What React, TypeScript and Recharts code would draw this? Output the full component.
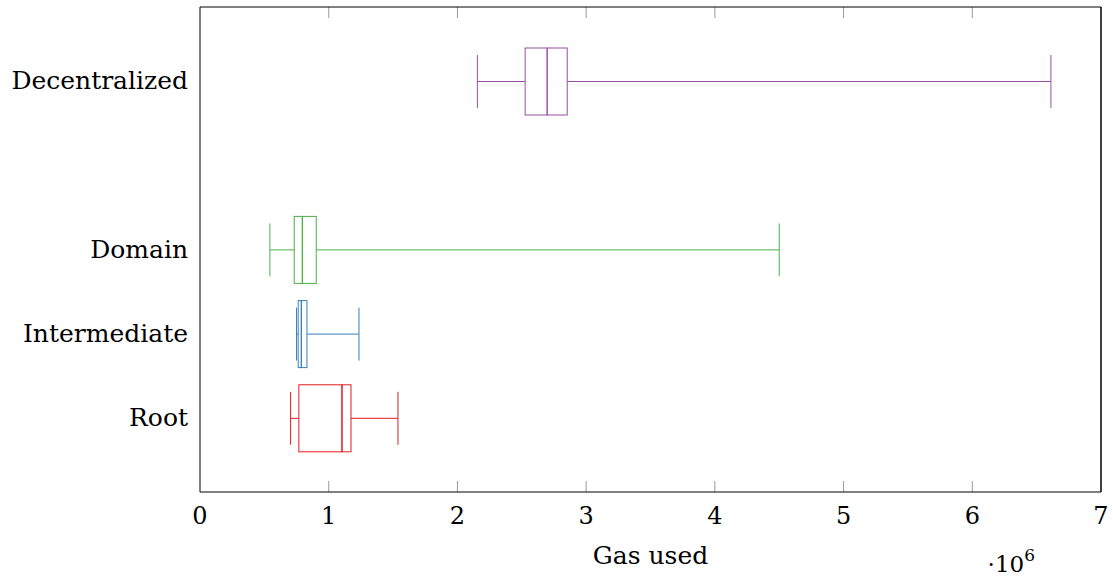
import React from 'react';
import { ComposedChart, Bar, XAxis, YAxis, ReferenceLine } from 'recharts';

// box plot rows, top to bottom ('' = empty slot between Domain and Decentralized)
const categories = ['Decentralized', '', 'Domain', 'Intermediate', 'Root'];
const colors = ['#984ea3', '', '#4daf4a', '#377eb8', '#e41a1c'];
// gas used, in units of 10^6
const lowerWhisker = [2.155, 0, 0.543, 0.75, 0.704];
const lowerQuartile = [2.526, 0, 0.732, 0.763, 0.768];
const median = [2.697, 0, 0.795, 0.787, 1.103];
const upperQuartile = [2.853, 0, 0.903, 0.831, 1.173];
const upperWhisker = [6.611, 0, 4.5, 1.235, 1.538];
const xTicks = [0, 1, 2, 3, 4, 5, 6, 7];

const FONT = '"DejaVu Serif", serif';

// stacked segments: invisible base, low whisker, lower box half, upper box half, high whisker
const data = categories.map((name, i) => ({
  name: name || ' ',
  color: colors[i],
  base: lowerWhisker[i],
  w1: lowerQuartile[i] - lowerWhisker[i],
  b1: median[i] - lowerQuartile[i],
  b2: upperQuartile[i] - median[i],
  w2: upperWhisker[i] - upperQuartile[i],
}));

const Nothing = () => null;

const WhiskerLow = (props: any) => {
  const { x, y, width, height, payload } = props;
  if (!payload || !payload.color) return null;
  const cy = y + height / 2;
  const cap = (height * 0.79) / 2;
  return (
    <g stroke={payload.color} strokeWidth={1} fill="none">
      <line x1={x} x2={x + width} y1={cy} y2={cy} />
      <line x1={x} x2={x} y1={cy - cap} y2={cy + cap} />
    </g>
  );
};

const WhiskerHigh = (props: any) => {
  const { x, y, width, height, payload } = props;
  if (!payload || !payload.color) return null;
  const cy = y + height / 2;
  const cap = (height * 0.79) / 2;
  return (
    <g stroke={payload.color} strokeWidth={1} fill="none">
      <line x1={x} x2={x + width} y1={cy} y2={cy} />
      <line x1={x + width} x2={x + width} y1={cy - cap} y2={cy + cap} />
    </g>
  );
};

const BoxHalf = (props: any) => {
  const { x, y, width, height, payload } = props;
  if (!payload || !payload.color) return null;
  return <rect x={x} y={y} width={width} height={height} fill="none" stroke={payload.color} strokeWidth={1} />;
};

// short inward tick marks at the top and bottom of the frame, drawn as thin filled rects
const TickMark = (props: any) => {
  const { x1, y1, y2 } = props;
  const top = Math.min(y1, y2);
  const bottom = Math.max(y1, y2);
  return (
    <g fill="#9a9a9a" stroke="none">
      <rect x={x1 - 0.5} y={top} width={1} height={11} />
      <rect x={x1 - 0.5} y={bottom - 11} width={1} height={11} />
    </g>
  );
};

const BottomTick = (props: any) => {
  const { x, y, payload } = props;
  return (
    <text x={x} y={y + 32} textAnchor="middle" fontSize={24} fontFamily={FONT} fill="#000">
      {payload.value}
    </text>
  );
};

const LeftTick = (props: any) => {
  const { x, y, payload } = props;
  const label = String(payload.value).trim();
  if (!label) return null;
  return (
    <text x={x} y={y} dy={8} textAnchor="end" fontSize={25} fontFamily={FONT} fill="#000">
      {label}
    </text>
  );
};

const AxisTitle = (props: any) => {
  const { viewBox } = props;
  if (!viewBox) return null;
  const { x, y, width } = viewBox;
  return (
    <g fontFamily={FONT} fill="#000">
      <text x={x + width / 2} y={y + 72} textAnchor="middle" fontSize={25}>
        Gas used
      </text>
      <text x={x + width - 66} y={y + 80} textAnchor="end" fontSize={23}>
        ·10
        <tspan fontSize={17} dy={-11}>6</tspan>
      </text>
    </g>
  );
};

export default function App() {
  return (
    <div style={{ position: 'absolute', left: 0, top: 0, background: '#fff' }}>
      <ComposedChart
        width={1113}
        height={578}
        data={data}
        layout="vertical"
        barSize={67}
        margin={{ top: 6, right: 11, bottom: 0, left: 0 }}
      >
        <XAxis
          type="number"
          domain={[0, 7]}
          ticks={xTicks}
          interval={0}
          height={86}
          tickSize={0}
          tickMargin={0}
          tickLine={false}
          axisLine={{ stroke: '#000', strokeWidth: 1 }}
          tick={<BottomTick />}
          label={<AxisTitle />}
        />
        <XAxis
          xAxisId="top"
          orientation="top"
          type="number"
          domain={[0, 7]}
          ticks={xTicks}
          height={1}
          tickLine={false}
          axisLine={{ stroke: '#000', strokeWidth: 1 }}
          tick={false}
        />
        <YAxis
          type="category"
          dataKey="name"
          width={200}
          padding={{ top: 32, bottom: 32 }}
          tickSize={0}
          tickMargin={12}
          tickLine={false}
          interval={0}
          axisLine={{ stroke: '#000', strokeWidth: 1 }}
          tick={<LeftTick />}
        />
        <YAxis
          yAxisId="right"
          orientation="right"
          type="category"
          dataKey="name"
          width={1}
          tick={false}
          tickLine={false}
          axisLine={{ stroke: '#000', strokeWidth: 1 }}
        />
        <Bar dataKey="base" stackId="box" shape={<Nothing />} isAnimationActive={false} />
        <Bar dataKey="w1" stackId="box" shape={<WhiskerLow />} isAnimationActive={false} />
        <Bar dataKey="b1" stackId="box" shape={<BoxHalf />} isAnimationActive={false} />
        <Bar dataKey="b2" stackId="box" shape={<BoxHalf />} isAnimationActive={false} />
        <Bar dataKey="w2" stackId="box" shape={<WhiskerHigh />} isAnimationActive={false} />
        {xTicks.slice(1, -1).map((v) => (
          <ReferenceLine key={v} x={v} shape={<TickMark />} />
        ))}
        <ReferenceLine x={7} stroke="#000" strokeWidth={1} ifOverflow="visible" />
      </ComposedChart>
    </div>
  );
}
